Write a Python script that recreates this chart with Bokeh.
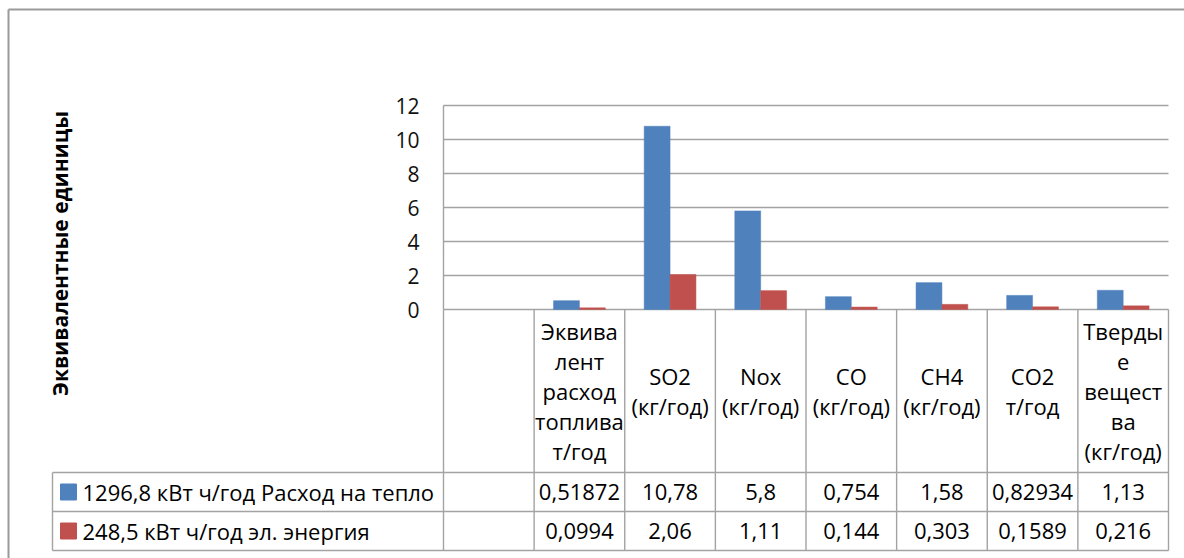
import numpy as np
from bokeh.plotting import figure
from bokeh.models import Range1d
from bokeh.core.properties import value
from bokeh.embed import file_html
from bokeh.resources import INLINE

# ---- data -------------------------------------------------------------
categories = [
    "",
    "Эквива\nлент\nрасход\nтоплива\nт/год",
    "SO2\n(кг/год)",
    "Nox\n(кг/год)",
    "CO\n(кг/год)",
    "CH4\n(кг/год)",
    "CO2\nт/год",
    "Тверды\nе\nвещест\nва\n(кг/год)",
]
series_names = ["1296,8 кВт ч/год Расход на тепло", "248,5 кВт ч/год эл. энергия"]
heat = [0.51872, 10.78, 5.8, 0.754, 1.58, 0.82934, 1.13]
electric = [0.0994, 2.06, 1.11, 0.144, 0.303, 0.1589, 0.216]
y_ticks = [0, 2, 4, 6, 8, 10, 12]
y_title = "Эквивалентные единицы"

BLUE = "#4f81bd"
RED = "#c0504d"
GRID = "#a3a3a3"
FONT = value("Open Sans")
TABLE_SIZE = "22px"

# ---- layout (pixel geometry of the page) ------------------------------
W, H = 1184, 558
PL, PR, PT, PB = 443, 1168, 105, 309          # plot area
ROW1, ROW2, ROW3 = 472, 511, 550             # table row borders
LEG_L = 52                                    # left edge of the legend column

unit_x = (PR - PL) / len(categories)
unit_y = (PB - PT) / (y_ticks[-1] - y_ticks[0])


def X(px):
    return (px - PL) / unit_x


def Y(py):
    return (PB - py) / unit_y


p = figure(
    width=W, height=H,
    x_range=Range1d(X(0), X(W)), y_range=Range1d(Y(H), Y(0)),
    x_axis_type=None, y_axis_type=None,
    min_border=0, outline_line_color=None,
    output_backend="svg", toolbar_location=None,
)
p.background_fill_color = "white"

n = len(categories)
edges = np.arange(n + 1)
centers = np.arange(n) + 0.5
data_centers = centers[1:]

# outer chart border (top and left)
p.segment(x0=[X(8), X(8)], y0=[Y(9), Y(9)], x1=[X(W), X(8)], y1=[Y(9), Y(H)],
          line_color="#9a9a9a", line_width=2)

# horizontal gridlines and value axis line
p.segment(x0=[0] * len(y_ticks), x1=[n] * len(y_ticks), y0=y_ticks, y1=y_ticks,
          line_color=GRID, line_width=1.4)
p.segment(x0=[0], x1=[0], y0=[y_ticks[0]], y1=[y_ticks[-1]],
          line_color=GRID, line_width=1.4)

# tick labels
p.text(x=[X(419)] * len(y_ticks), y=y_ticks, text=[str(t) for t in y_ticks],
       text_font=FONT, text_font_size="21px", text_align="right",
       text_baseline="middle", text_color="#111111")

# bars
bw = 1 / 3.5
p.vbar(x=data_centers - bw / 2, width=bw, bottom=0, top=heat,
       fill_color=BLUE, line_color=BLUE, line_width=0.5)
p.vbar(x=data_centers + bw / 2, width=bw, bottom=0, top=electric,
       fill_color=RED, line_color=RED, line_width=0.5)

# data table grid
p.segment(x0=edges, x1=edges, y0=[0] * (n + 1), y1=[Y(ROW3)] * (n + 1),
          line_color=GRID, line_width=1.4)
p.segment(x0=[X(LEG_L)] * 3, x1=[n] * 3, y0=[Y(ROW1), Y(ROW2), Y(ROW3)],
          y1=[Y(ROW1), Y(ROW2), Y(ROW3)], line_color=GRID, line_width=1.4)
p.segment(x0=[X(LEG_L)], x1=[X(LEG_L)], y0=[Y(ROW1)], y1=[Y(ROW3)],
          line_color=GRID, line_width=1.4)

# category header cells
p.text(x=centers, y=[Y((PB + ROW1) / 2)] * n, text=categories,
       text_font=FONT, text_font_size=TABLE_SIZE, text_align="center",
       text_baseline="middle", text_line_height=1.0, text_color="black")

# value rows
fmt = lambda v: str(v).replace(".", ",")
row_y = [Y((ROW1 + ROW2) / 2), Y((ROW2 + ROW3) / 2)]
for vals, yy in zip([heat, electric], row_y):
    p.text(x=data_centers, y=[yy] * len(vals), text=[fmt(v) for v in vals],
           text_font=FONT, text_font_size=TABLE_SIZE, text_align="center",
           text_baseline="middle", text_color="black")

# legend keys and series names in the table
p.scatter(x=[X(68)] * 2, y=row_y, marker="square", size=16,
          fill_color=[BLUE, RED], line_color=[BLUE, RED])
p.text(x=[X(82)] * 2, y=row_y, text=series_names,
       text_font=FONT, text_font_size=TABLE_SIZE, text_align="left",
       text_baseline="middle", text_color="black")

# value axis title
p.text(x=[X(59)], y=[Y(253)], text=[y_title], angle=np.pi / 2,
       text_font=FONT, text_font_size="21px", text_font_style="bold",
       text_align="center", text_baseline="middle", text_color="black")

open("out.html", "w").write(file_html(p, INLINE))
